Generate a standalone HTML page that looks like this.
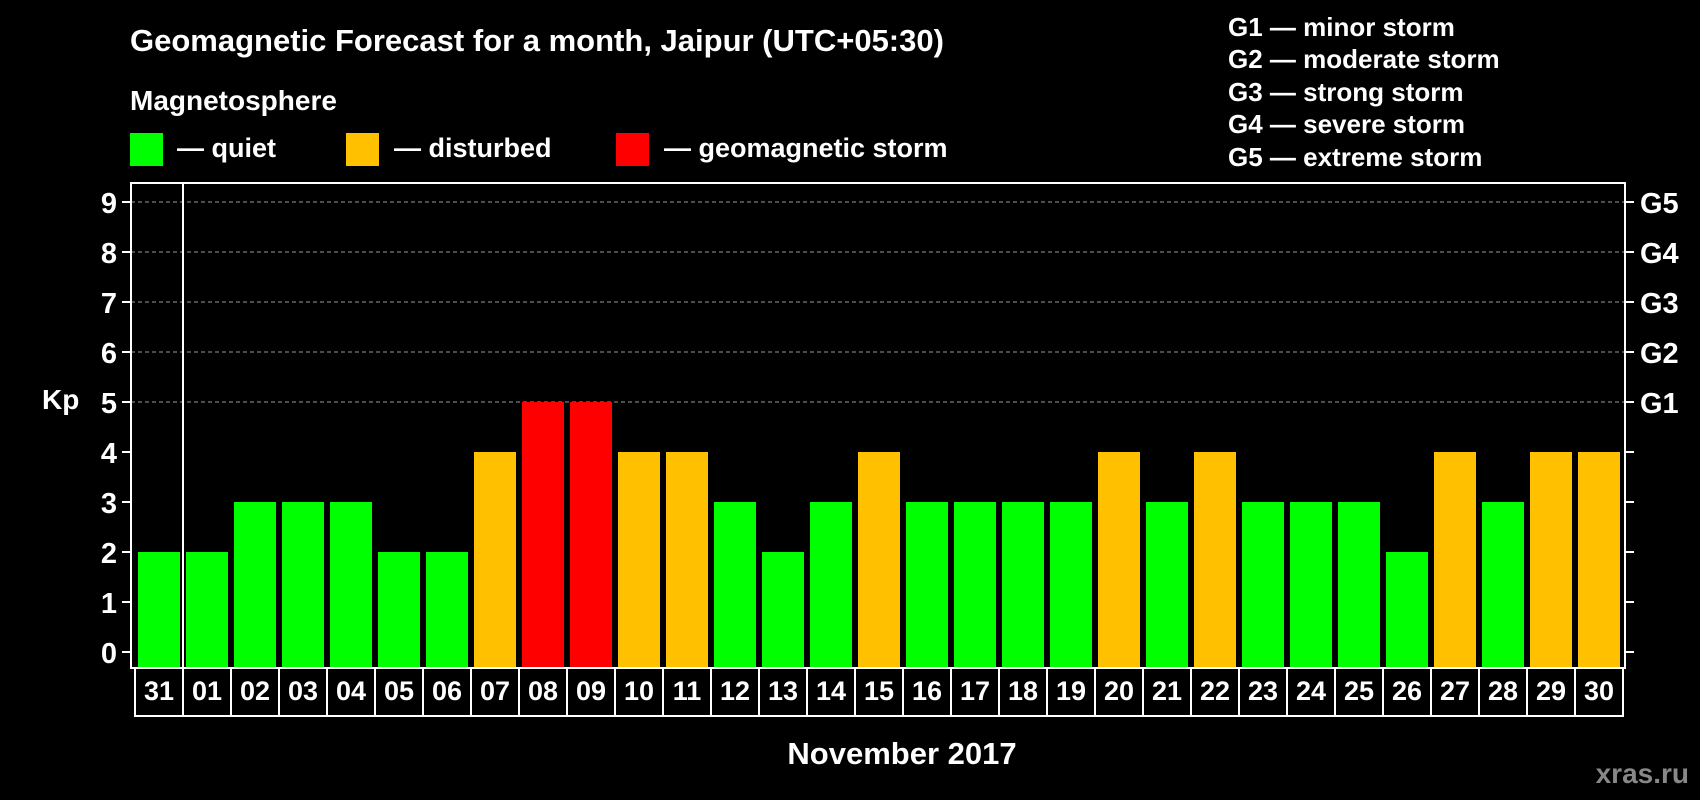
<!DOCTYPE html>
<html><head><meta charset="utf-8"><style>
html,body{margin:0;padding:0;background:#000;}
svg{display:block;font-family:"Liberation Sans",Arial,sans-serif;font-weight:bold;}
</style></head><body>
<svg width="1700" height="800" viewBox="0 0 1700 800" xmlns="http://www.w3.org/2000/svg">
<rect x="0" y="0" width="1700" height="800" fill="#000"/>
<text x="130" y="51" font-size="31" fill="#fff">Geomagnetic Forecast for a month, Jaipur (UTC+05:30)</text>
<text x="130" y="110" font-size="28" fill="#fff">Magnetosphere</text>
<g>
<rect x="130" y="133" width="33" height="33" fill="#00ff00"/>
<text x="177" y="157" font-size="27" fill="#fff">— quiet</text>
<rect x="346" y="133" width="33" height="33" fill="#ffc000"/>
<text x="394" y="157" font-size="27" fill="#fff">— disturbed</text>
<rect x="616" y="133" width="33" height="33" fill="#ff0000"/>
<text x="664" y="157" font-size="27" fill="#fff">— geomagnetic storm</text>
</g>
<g font-size="26" fill="#fff">
<text x="1228" y="36">G1 — minor storm</text>
<text x="1228" y="68">G2 — moderate storm</text>
<text x="1228" y="101">G3 — strong storm</text>
<text x="1228" y="133">G4 — severe storm</text>
<text x="1228" y="166">G5 — extreme storm</text>
</g>
<g id="plot"></g>
<text x="42" y="409" font-size="28" fill="#fff">Kp</text>
<text x="902" y="764" font-size="31" fill="#fff" text-anchor="middle">November 2017</text>
<text x="1689" y="783" font-size="28" fill="#888" text-anchor="end">xras.ru</text>
</svg>
<script>
const days = ["31","01","02","03","04","05","06","07","08","09","10","11","12","13","14","15","16","17","18","19","20","21","22","23","24","25","26","27","28","29","30"];
const kpValues = [2,2,3,3,3,2,2,4,5,5,4,4,3,2,3,4,3,3,3,3,4,3,4,3,3,3,2,4,3,4,4];
const yTicks = [0,1,2,3,4,5,6,7,8,9];
const gLabels = ["G1","G2","G3","G4","G5"];
const gLevels = [5,6,7,8,9];

const NS = "http://www.w3.org/2000/svg";
const plot = document.getElementById("plot");
const L = 131, R = 1625, T = 183, B = 668;
const y = v => 652 - v * (450 / 9);
const pitch = (1623 - 135) / days.length;
const x = i => 135 + i * pitch;
function mk(tag, attrs, parent) {
  const e = document.createElementNS(NS, tag);
  for (const k in attrs) e.setAttribute(k, attrs[k]);
  (parent || plot).appendChild(e);
  return e;
}
gLevels.forEach(v => {
  const g = mk("line", {x1: L, x2: R, y1: y(v), y2: y(v), stroke: "#999", "stroke-width": 1, "stroke-dasharray": "4,3"});
  
  
});
kpValues.forEach((v, i) => {
  const c = v >= 5 ? "#ff0000" : (v >= 4 ? "#ffc000" : "#00ff00");
  const b = mk("rect", {x: x(i) + 3, y: y(v), width: pitch - 6, height: B - 1 - y(v), fill: c});
  
  
});
const fr = mk("rect", {x: L, y: T, width: R - L, height: B - T, fill: "none", stroke: "#fff", "stroke-width": 2});


const dv = mk("line", {x1: x(1), x2: x(1), y1: T, y2: B, stroke: "#fff", "stroke-width": 2});


yTicks.forEach(v => {
  const t = mk("line", {x1: 122, x2: L, y1: y(v), y2: y(v), stroke: "#fff", "stroke-width": 2});
  
  
  const t2 = mk("line", {x1: R, x2: 1634, y1: y(v), y2: y(v), stroke: "#fff", "stroke-width": 2});
  
  
  const lb = mk("text", {x: 117, y: y(v) + 11, "font-size": 29, fill: "#fff", "text-anchor": "end"});
  lb.textContent = v;
  
  
});
gLabels.forEach((g, i) => {
  const lb = mk("text", {x: 1640, y: y(gLevels[i]) + 11, "font-size": 29, fill: "#fff"});
  lb.textContent = g;
  
  
});
days.forEach((d, i) => {
  const bx = mk("rect", {x: x(i), y: B, width: pitch, height: 48, fill: "none", stroke: "#fff", "stroke-width": 2});
  
  
  const t = mk("text", {x: x(i) + pitch / 2, y: 700, "font-size": 27, fill: "#fff", "text-anchor": "middle"});
  t.textContent = d;
  
  
});
</script>
</body></html>
